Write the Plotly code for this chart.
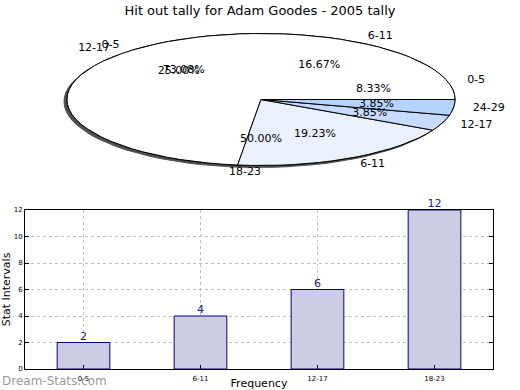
import numpy as np
import plotly.graph_objects as go

# ---- data ----
title_text = "Hit out tally for Adam Goodes - 2005 tally"
pieA_labels = ["0-5", "6-11", "12-17", "18-23"]
pieA_values = [2, 4, 6, 12]
pieB_labels = ["0-5", "6-11", "12-17", "24-29"]
pieB_values = [19, 5, 1, 1]
bar_categories = ["0-5", "6-11", "12-17", "18-23"]
bar_values = [2, 4, 6, 12]
y_ticks = [0, 2, 4, 6, 8, 10, 12]

# ---- pie geometry (pixel-like units on hidden axes) ----
W, H = 520, 390
CX, CY, RA, RB = 261, 99.5, 194, 66
pieA_colors = ["white", "white", "white", "white"]
pieB_colors = ["white", "#eaf1fd", "#c6dbff", "#b5d3ff"]


def wedge(t0, t1, dx=0.0, dy=0.0, n=80):
    ts = np.radians(np.linspace(t0, t1, max(3, int(n * (t1 - t0) / 360) + 3)))
    xs = [CX + dx] + list(CX + dx + RA * np.cos(ts)) + [CX + dx]
    ys = [CY + dy] + list(CY + dy - RB * np.sin(ts)) + [CY + dy]
    return xs, ys


def angles(values):
    tot = float(sum(values))
    out, start = [], 0.0
    for v in values:
        span = 360.0 * v / tot
        out.append((start, start + span))
        start += span
    return out


fig = go.Figure()
PA = dict(xaxis="x2", yaxis="y2")

angA = angles(pieA_values)
angB = angles(pieB_values)

# shadow of pie A
for (t0, t1) in angA:
    xs, ys = wedge(t0, t1, -3, 2)
    fig.add_trace(go.Scatter(x=xs, y=ys, fill="toself", fillcolor="#505050",
                             line=dict(color="#505050", width=1), mode="lines",
                             hoverinfo="skip", showlegend=False, **PA))
# pie A
for (t0, t1), c in zip(angA, pieA_colors):
    xs, ys = wedge(t0, t1)
    fig.add_trace(go.Scatter(x=xs, y=ys, fill="toself", fillcolor=c,
                             line=dict(color="black", width=1), mode="lines",
                             hoverinfo="skip", showlegend=False, **PA))
# side strip of pie B second slice
t0, t1 = angB[1]
xs, ys = wedge(t0, t1, -8, 0)
fig.add_trace(go.Scatter(x=xs, y=ys, fill="toself", fillcolor="#b5d3ff",
                         line=dict(color="black", width=1), mode="lines",
                         hoverinfo="skip", showlegend=False, **PA))
# pie B
for (t0, t1), c in zip(angB, pieB_colors):
    xs, ys = wedge(t0, t1)
    fig.add_trace(go.Scatter(x=xs, y=ys, fill="toself", fillcolor=c,
                             line=dict(color="black", width=1), mode="lines",
                             hoverinfo="skip", showlegend=False, **PA))

# labels & percentages
for labels, values, angs in [(pieA_labels, pieA_values, angA), (pieB_labels, pieB_values, angB)]:
    tot = float(sum(values))
    lx, ly, lpos, px, py, ptxt = [], [], [], [], [], []
    for lab, v, (t0, t1) in zip(labels, values, angs):
        m = np.radians((t0 + t1) / 2)
        x = CX + 1.1 * RA * np.cos(m)
        y = CY - 1.1 * RB * np.sin(m)
        lx.append(x); ly.append(y)
        lpos.append("middle right" if np.cos(m) >= 0 else "middle left")
        px.append(CX + 0.6 * RA * np.cos(m)); py.append(CY - 0.6 * RB * np.sin(m))
        ptxt.append(f"{100 * v / tot:.2f}%")
    fig.add_trace(go.Scatter(x=lx, y=ly, mode="text", text=labels, textposition=lpos,
                             textfont=dict(size=11, color="black", family="DejaVu Sans"),
                             hoverinfo="skip", showlegend=False, cliponaxis=False, **PA))
    fig.add_trace(go.Scatter(x=px, y=py, mode="text", text=ptxt, textposition="middle center",
                             textfont=dict(size=11, color="black", family="DejaVu Sans"),
                             hoverinfo="skip", showlegend=False, cliponaxis=False, **PA))

# ---- bar chart ----
fig.add_trace(go.Bar(x=bar_categories, y=bar_values, width=0.45,
                     marker=dict(color="#ccccE5", line=dict(color="#000080", width=1)),
                     showlegend=False, hoverinfo="skip", xaxis="x", yaxis="y"))
fig.add_trace(go.Scatter(x=bar_categories, y=bar_values, mode="text",
                         text=[str(v) for v in bar_values], textposition="top center",
                         textfont=dict(size=11, color="#1a1a8c", family="DejaVu Sans"),
                         cliponaxis=False, showlegend=False, hoverinfo="skip",
                         xaxis="x", yaxis="y"))

pie_top = 0
pie_bot = 187
fig.update_layout(
    width=W, height=H,
    margin=dict(l=0, r=0, t=0, b=0, autoexpand=False),
    paper_bgcolor="white", plot_bgcolor="rgba(0,0,0,0)",
    font=dict(family="DejaVu Sans", color="black"),
    title=dict(text=title_text, x=0.5, xanchor="center", y=1 - 10 / H, yanchor="middle",
               font=dict(size=13, color="black", family="DejaVu Sans"), automargin=False),
    xaxis2=dict(domain=[0, 1], range=[0, W], visible=False, fixedrange=True, automargin=False),
    yaxis2=dict(domain=[1 - pie_bot / H, 1], range=[pie_bot, pie_top], visible=False,
                fixedrange=True, anchor="x2", automargin=False),
    xaxis=dict(domain=[25 / W, 493 / W], range=[-0.5, 3.5], anchor="y", automargin=False,
               showline=True, linecolor="black", linewidth=1, mirror=True,
               ticks="inside", ticklen=4, tickcolor="black", ticklabelstandoff=3,
               showgrid=True, gridcolor="#c0c0c0", griddash="dot", gridwidth=1,
               tickfont=dict(size=7, family="DejaVu Sans"),
               title=dict(text="Frequency", font=dict(size=11), standoff=7)),
    yaxis=dict(domain=[1 - 369 / H, 1 - 210 / H], range=[0, 12], anchor="x", automargin=False,
               tickvals=y_ticks, showline=True, linecolor="black", linewidth=1, mirror="ticks",
               ticks="inside", ticklen=4, tickcolor="black",
               showgrid=True, gridcolor="#c0c0c0", griddash="dot", gridwidth=1,
               zeroline=False, tickfont=dict(size=7, family="DejaVu Sans"),
               title=dict(text="Stat Intervals", font=dict(size=11), standoff=2)),
    annotations=[dict(text="Dream-Stats.com", x=0, xref="paper", xanchor="left",
                      y=(H - 381) / H, yref="paper", yanchor="middle", showarrow=False,
                      font=dict(size=12, color="#9a9a9a", family="DejaVu Sans"))],
)

fig.write_html("out.html", config={"displayModeBar": False, "staticPlot": True},
               post_script="document.body.style.margin='0';document.body.style.padding='0';")
